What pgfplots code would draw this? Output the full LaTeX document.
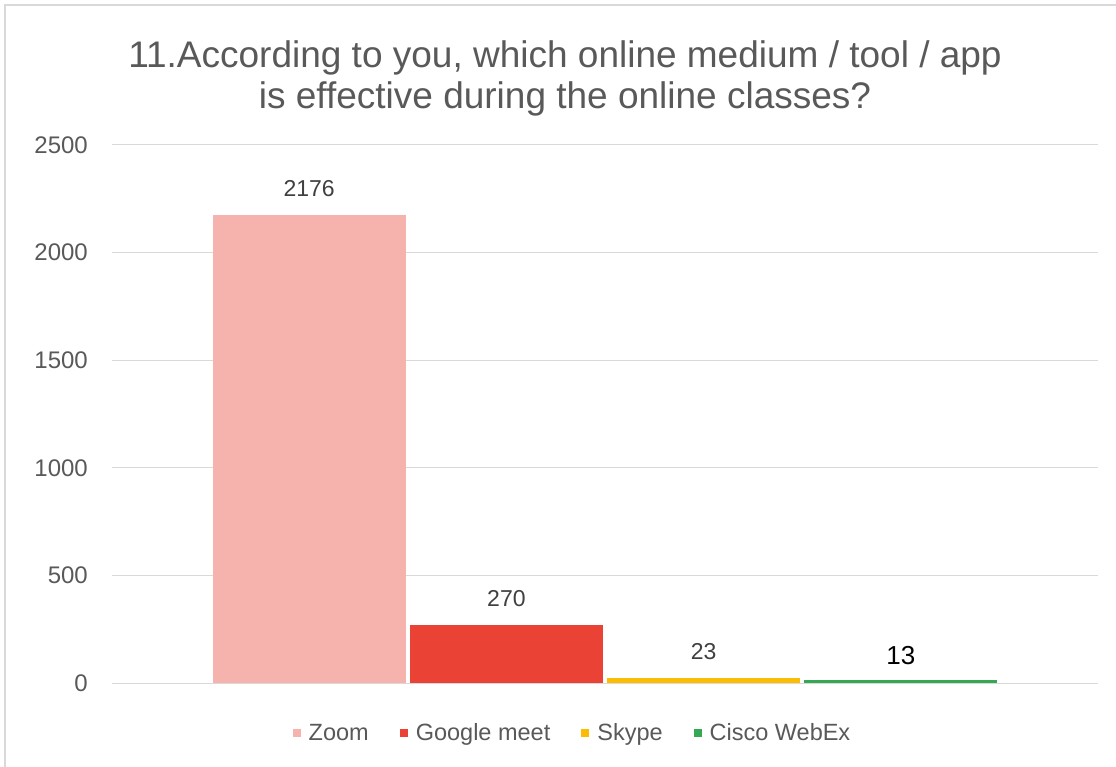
\documentclass[border=0pt]{standalone}
\usepackage{pgfplots}
\pgfplotsset{compat=1.18}
\usepackage{fontspec}
\setmainfont{Liberation Sans}
\definecolor{zoomc}{HTML}{F6B3AE}
\definecolor{meetc}{HTML}{EA4335}
\definecolor{skypec}{HTML}{FBBC04}
\definecolor{ciscoc}{HTML}{34A853}
\definecolor{gridc}{HTML}{D9D9D9}
\definecolor{txt}{HTML}{595959}
\definecolor{lbl}{HTML}{404040}
\begin{document}
\begin{tikzpicture}[x=1pt,y=1pt]
\useasboundingbox (0,0) rectangle (1116,766);
\fill[white] (0,0) rectangle (1116,766);
\draw[line width=2pt, color=gridc] (5,-20) rectangle (1140,761);
\node[align=center, font=\fontsize{37}{41}\selectfont, text=txt] at (565,688) {11.According to you, which online medium / tool / app\\is effective during the online classes?};
\begin{axis}[
  at={(112pt,83pt)}, anchor=south west, scale only axis,
  width=986pt, height=538pt,
  xmin=-1, xmax=4, ymin=0, ymax=2500,
  ytick={0,500,1000,1500,2000,2500},
  xtick=\empty,
  ymajorgrids, grid style={color=gridc, line width=1pt},
  x axis line style={draw=gridc, line width=1pt},
  y axis line style={draw=none},
  major tick length=0pt,
  /pgf/number format/assume math mode=true,
  /pgf/number format/set thousands separator={},
  yticklabel style={font=\fontsize{24}{28}\selectfont, text=txt, inner sep=0pt, xshift=-24pt},
  legend style={at={(0.466,-0.093)}, anchor=center, draw=none, fill=none,
    legend columns=4, font=\fontsize{23.5}{28}\selectfont, text=txt,
    nodes={inner sep=0pt},
    /tikz/every odd column/.append style={column sep=8pt},
    /tikz/every even column/.append style={column sep=31pt}},
  legend image code/.code={\fill[#1] (0pt,-4pt) rectangle (8pt,4pt);},
  every node near coord/.append style={font=\fontsize{23}{27}\selectfont, text=lbl, anchor=south, inner sep=0pt, yshift=18pt},
]
\addplot[ybar, bar shift=0pt, bar width=0.98, fill=zoomc, draw=none, nodes near coords] coordinates {(0,2176)};
\addlegendentry{Zoom}
\addplot[ybar, bar shift=0pt, bar width=0.98, fill=meetc, draw=none, nodes near coords] coordinates {(1,270)};
\addlegendentry{Google meet}
\addplot[ybar, bar shift=0pt, bar width=0.98, fill=skypec, draw=none, nodes near coords] coordinates {(2,23)};
\addlegendentry{Skype}
\addplot[ybar, bar shift=0pt, bar width=0.98, fill=ciscoc, draw=none, nodes near coords, every node near coord/.append style={text=black, font=\fontsize{26}{30}\selectfont, yshift=-3pt}] coordinates {(3,13)};
\addlegendentry{Cisco WebEx}
\end{axis}
\end{tikzpicture}
\end{document}
